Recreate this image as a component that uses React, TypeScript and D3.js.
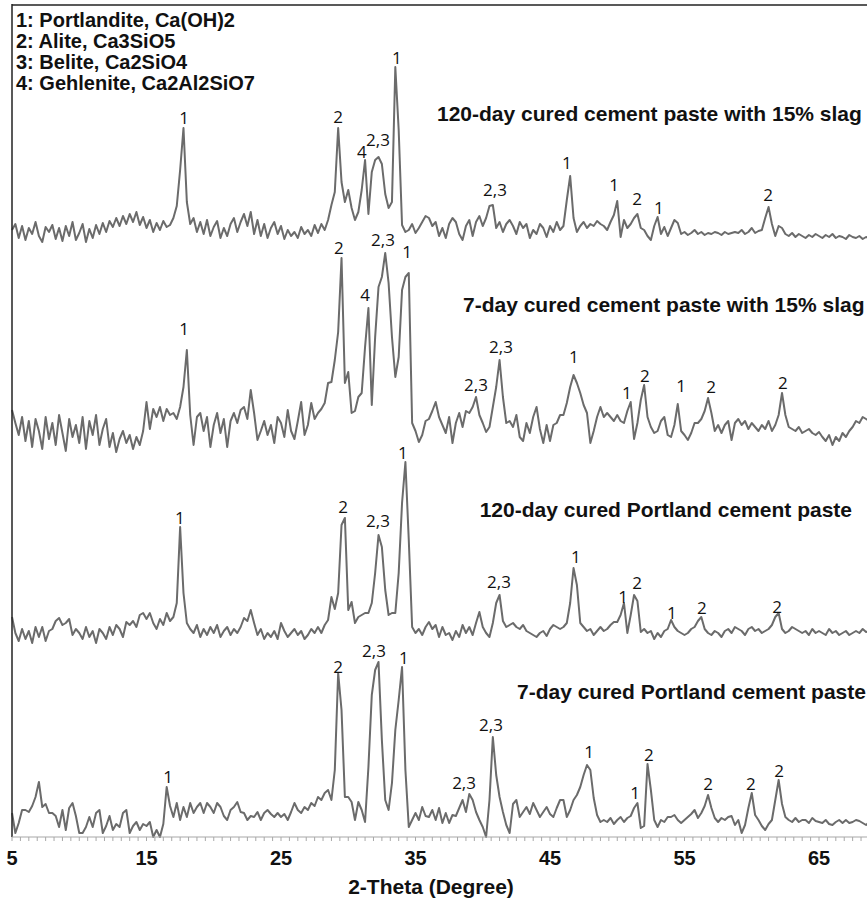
import React from 'react';
import * as d3 from 'd3';

// ---------- DATA ----------
// 2-Theta sampling of the digitised patterns (degrees)
const thetaStart = 5;
const thetaStep = 0.25;
const thetaDomain: [number, number] = [5, 70];
const xTickValues = [5, 15, 25, 35, 45, 55, 65];
const xAxisTitle = '2-Theta (Degree)';

// relative intensities (a.u.), one value per 0.25 deg from 5 to 70
const slag120 = [
  0, 6, -8, 4, -10, 2, -4, 8, -6, -12, 3, -2, 5, -9, 2, -11, 4, -6, 8, -10,
  -3, 6, -12, 1, -8, 5, -4, 7, -2, 9, 3, 12, 4, 14, 6, 16, 8, 18, 5, 13,
  2, 10, -2, 7, 0, 9, 3, 5, 12, 24, 60, 102, 28, 6, 12, -2, 8, -4, 10, -6,
  3, 9, -8, 2, -6, 6, 12, -2, 8, 16, 4, 18, -4, 10, -6, 6, -8, 2, 8, -4,
  4, -9, 0, -6, -2, -8, 3, -4, 0, -6, 5, -3, 6, 0, 10, 25, 38, 102, 48, 28,
  40, 22, 10, 18, 40, 70, 16, 58, 70, 73, 66, 36, 22, 28, 163, 100, 5, -2, 0, 6,
  -3, 2, 8, 14, 12, 4, 8, -6, 2, -8, 6, 12, 8, -4, -10, 4, 10, -6, 8, 14,
  4, 12, 24, 25, 2, 8, -2, 6, 10, 4, -4, 8, 2, 6, -8, 0, -4, 6, 2, -7,
  4, -2, 8, 0, 4, 30, 54, 12, -2, 4, 8, 2, 6, 4, 9, 6, 4, 0, 8, 15,
  29, -7, 10, 2, 6, 12, 16, 2, 0, -6, -10, 4, 13, -4, 3, -6, 2, 10, 7, -4,
  -2, -5, -3, 0, -4, -2, -5, -3, -4, -2, -3, -5, -2, -4, -3, -2, -3, 0, -4, -2,
  2, -3, -1, 0, 12, 23, 6, -6, 4, 2, -4, -6, -3, -7, -4, -6, -8, -5, -7, -4,
  -6, -8, -5, -7, -4, -8, -6, -7, -9, -5, -7, -8, -6, -9, -7, -8, -7, -8, -6, -8,
  -7,
];

const slag7 = [
  17, 4, -8, 10, -14, 6, -20, 8, -4, -22, 10, -12, 4, -18, 12, -6, -24, 8, -10, 2,
  -16, 10, -22, 6, -8, 12, -18, -2, 8, -20, -6, -25, -12, -4, -16, -8, -22, -10, -18, -4,
  25, -2, 18, 10, 20, 6, 18, 12, 14, 8, 20, 40, 77, 12, -18, 10, 14, -4, 10, -20,
  2, 14, -6, 8, -20, 6, 14, 4, 17, 20, 8, 37, 14, -13, -4, 6, -8, 2, -16, 10,
  4, -10, 17, -4, -12, 6, 25, -8, 2, 24, 8, 14, 18, 24, 44, 45, 67, 95, 169, 44,
  55, 14, 16, 30, 34, 80, 119, 22, 90, 140, 150, 174, 144, 90, 50, 70, 137, 150, 154, 4,
  -4, -15, -8, 6, 8, 16, 25, 10, 2, -6, 10, -16, 4, 14, 0, 16, 14, 20, 30, 12,
  4, -5, 0, 20, 40, 67, 30, 4, 6, 0, 12, -10, -14, 4, -6, 10, 20, -2, -16, 2,
  -14, 2, 4, 12, 12, 24, 40, 52, 44, 34, 22, 14, -16, -4, 10, 20, 10, 14, 10, 6,
  12, 6, 4, 16, 25, -12, 4, 27, 42, 10, 0, -6, -4, 6, 10, -8, -10, 2, 23, -4,
  -8, -13, -6, 4, 4, 8, 16, 29, 14, -4, 2, -6, 2, 6, -13, 4, 8, 2, 6, -2,
  4, 0, -4, 2, -2, 6, -4, 2, 12, 34, 12, 0, -2, -4, 0, -6, -4, -2, -6, -8,
  -5, -10, -14, -8, -18, -10, -14, -6, -10, -4, 0, 6, 4, 10, 8, 6, 4, 8, 6, 4,
  6,
];

const opc120 = [
  16, 0, -8, 4, -6, 2, -10, 6, -4, 6, -8, 2, 4, 12, 15, 8, 10, 14, -2, 4,
  0, -6, 6, -4, 2, -10, 4, 0, -6, 6, -2, 8, 4, -4, 11, 8, 12, 6, 18, 20,
  14, 20, 10, 4, 14, 8, 20, 12, 16, 30, 106, 40, 10, 4, 0, 8, -4, 4, -2, 6,
  0, 8, -4, 2, 6, -2, 4, 0, 6, 15, 12, 23, 10, -2, 4, -6, 0, -4, 2, -6,
  10, 2, -4, 0, 4, -2, 2, -6, -2, 4, 0, 6, 0, 8, 13, 36, 24, 40, 108, 115,
  23, 31, 10, 16, 18, 20, 20, 30, 60, 98, 86, 43, 18, 20, 20, 60, 130, 171, 93, 6,
  0, 4, -2, 6, 11, 4, 8, -4, 6, -2, 0, -7, 2, -4, 8, 0, 6, -2, 10, 21,
  6, 0, -4, 10, 30, 38, 12, 6, 8, 10, 6, 4, 8, 2, 0, -2, -4, 0, 2, -3,
  4, 8, 6, 4, 6, 10, 30, 65, 48, 10, 6, 2, 4, -2, 2, 6, 2, 4, 8, 11,
  11, 18, 30, 0, 18, 38, 32, 1, 4, 0, 2, -6, 0, -4, 2, 4, 13, 6, 2, 0,
  -2, 0, 4, 6, 12, 16, 4, 0, -2, 2, 0, -4, 2, 4, 0, 6, 4, 2, -2, 4,
  6, 2, 4, 0, 2, 4, 8, 16, 20, 4, 0, 2, 6, 4, 2, 0, 2, -2, 4, 0,
  2, 0, -2, 4, 0, 2, -2, 0, 2, -2, 0, 2, 0, 4, 1, 2, 0, 2, 1, 0,
  2,
];

const opc7 = [
  7, -13, -3, 10, 10, 8, 14, 23, 38, 13, 16, 7, 7, 4, -7, 10, -10, 12, 17, 4,
  -13, -13, -7, 3, -7, 7, 10, -13, -6, 4, -10, -4, -7, 7, 10, -13, -6, -2, -10, -4,
  -6, -2, -17, -10, -17, -4, 33, 14, 3, 17, 0, 13, 3, 17, 7, 13, 17, 7, 17, 13,
  7, 17, 13, 4, 0, 10, 13, 18, 8, 7, 0, 4, 3, 8, 0, 7, 10, 6, 3, 7,
  3, 6, 0, 8, 17, 10, 7, 13, 10, 17, 14, 23, 20, 27, 30, 20, 50, 147, 110, 23,
  23, 18, 0, 18, 10, -2, 53, 125, 150, 158, 80, 20, 10, 37, 90, 120, 153, 50, -7, 0,
  7, 0, 13, 4, 3, 10, 0, 12, -3, 7, -3, 5, 4, 12, 20, 8, 26, 20, 8, 0,
  -7, -17, 20, 83, 45, 23, 8, -5, -13, 16, 20, 3, 8, 13, 6, 17, 10, 3, 8, 13,
  6, 3, 12, 20, 20, 3, 10, 20, 25, 33, 45, 55, 50, 22, 5, -2, 0, -2, 2, -4,
  0, 3, -2, 2, 4, 12, 17, -8, -6, 56, 30, 0, -7, 0, -2, 3, 3, 5, 0, -3,
  0, 3, 6, 10, 2, 7, 14, 25, 12, 2, -2, 2, 0, 3, 4, -5, 0, -13, -5, 12,
  27, 5, 0, -6, -10, -4, 0, 20, 40, 16, 3, 0, -2, 2, -2, 0, 0, -3, 2, -1,
  -2, -3, 0, -4, -5, -2, 0, -3, 0, -3, -2, 0, -1, -3, -5, -2, -2, -4, -3, -2,
  -3,
];

// vertical offset of each pattern (a.u.), top to bottom
const traceOffsets = [608, 411, 205, 18];
const traceNames = [
  '120-day cured cement paste with 15% slag',
  '7-day cured cement paste with 15% slag',
  '120-day cured Portland cement paste',
  '7-day cured Portland cement paste',
];

const phaseLegend = [
  '1: Portlandite, Ca(OH)2',
  '2: Alite, Ca3SiO5',
  '3: Belite, Ca2SiO4',
  '4: Gehlenite, Ca2Al2SiO7',
];

// peak annotations: [2-theta, label, height above pattern baseline]
const slag120Peaks: [number, string, number][] = [
  [17.79, '1', 106], [29.24, '2', 107], [31.02, '4', 72], [32.21, '2,3', 84],
  [33.62, '1', 166], [40.91, '2,3', 34], [46.26, '1', 61], [49.76, '1', 39],
  [51.47, '2', 25], [53.1, '1', 16], [61.21, '2', 29],
];
const slag7Peaks: [number, string, number][] = [
  [17.79, '1', 92], [29.31, '2', 173], [31.25, '4', 126], [32.58, '2,3', 181],
  [34.37, '1', 169], [39.5, '2,3', 36], [41.36, '2,3', 74], [46.78, '1', 64],
  [50.72, '1', 28], [52.06, '2', 45], [54.74, '1', 35], [56.97, '2', 34], [62.32, '2', 38],
];
const opc120Peaks: [number, string, number][] = [
  [17.49, '1', 109], [29.61, '2', 120], [32.21, '2,3', 106], [34.07, '1', 174],
  [41.21, '2,3', 45], [46.93, '1', 70], [50.43, '1', 30], [51.47, '2', 44],
  [54.07, '1', 14], [56.3, '2', 19], [61.88, '2', 20],
];
const opc7Peaks: [number, string, number][] = [
  [16.6, '1', 37], [29.24, '2', 147], [31.91, '2,3', 163], [34.14, '1', 156],
  [38.61, '2,3', 31], [40.61, '2,3', 89], [47.9, '1', 62], [51.32, '1', 21],
  [52.36, '2', 59], [56.75, '2', 30], [59.94, '2', 30], [62.03, '2', 43],
];

const traces = [slag120, slag7, opc120, opc7];
const tracePeaks = [slag120Peaks, slag7Peaks, opc120Peaks, opc7Peaks];

// ---------- CHART ----------
const W = 867;
const H = 901;
const LEFT = 12;
const TOP = 4;
const AXIS_Y = 837;
const PX_PER_DEG = 13.45;

// title placement (layout)
const titleLayout = [
  { x: 437, y: 121, anchor: 'start' },
  { x: 463, y: 312, anchor: 'start' },
  { x: 852, y: 517, anchor: 'end' },
  { x: 517, y: 699, anchor: 'start' },
];

const boldFont = "'Liberation Sans', Arial, sans-serif";
const narrowFont = "'Liberation Sans Narrow', 'Arial Narrow', 'Liberation Sans', Arial, sans-serif";
const peakFont = "'Open Sans', 'Liberation Sans', sans-serif";

export default function App() {
  const x = d3
    .scaleLinear()
    .domain(thetaDomain)
    .range([LEFT, LEFT + (thetaDomain[1] - thetaDomain[0]) * PX_PER_DEG]);
  const y = d3.scaleLinear().domain([0, 834]).range([838, 4]);

  const line = d3
    .line<number>()
    .x((_, i) => x(thetaStart + i * thetaStep))
    .y((d) => d);

  const minorTicks = d3.range(thetaDomain[0], thetaDomain[1] + 0.001, 0.625);

  return (
    <svg
      width={W}
      height={H}
      style={{ position: 'absolute', left: 0, top: 0, background: '#fff' }}
    >
      <rect x={0} y={0} width={W} height={H} fill="#fff" />
      {/* patterns */}
      <g>
        {traces.map((tr, k) => (
          <path
            key={k}
            d={line(tr.map((v) => y(traceOffsets[k] + v))) || ''}
            fill="none"
            stroke="#6b6b6b"
            strokeWidth={2}
            strokeLinejoin="round"
          />
        ))}
      </g>
      {/* peak labels */}
      <g fontFamily={peakFont} fontSize={17} fill="#111" textAnchor="middle">
        {tracePeaks.map((pk, k) =>
          pk.map(([t, lab, h], j) => (
            <text key={k + '-' + j} x={x(t)} y={y(traceOffsets[k] + h)}>
              {lab}
            </text>
          ))
        )}
      </g>
      {/* frame */}
      <line x1={LEFT} x2={LEFT} y1={TOP} y2={AXIS_Y} stroke="#222" strokeWidth={1.5} />
      <line x1={LEFT} x2={W} y1={TOP + 1} y2={TOP + 1} stroke="#222" strokeWidth={1.5} />
      {/* x axis */}
      <line x1={LEFT} x2={W} y1={AXIS_Y} y2={AXIS_Y} stroke="#a8a8a8" strokeWidth={1.2} />
      {minorTicks.map((t, i) => (
        <line key={i} x1={x(t)} x2={x(t)} y1={AXIS_Y} y2={AXIS_Y + 4} stroke="#a8a8a8" strokeWidth={1} />
      ))}
      <g fontFamily={narrowFont} fontWeight="bold" fill="#111" textAnchor="middle">
        {xTickValues.map((v) => (
          <text key={v} x={x(v)} y={865} fontSize={20}>
            {v}
          </text>
        ))}
        <text x={431} y={894} fontSize={21}>
          {xAxisTitle}
        </text>
      </g>
      {/* legend */}
      <g fontFamily={boldFont} fontWeight="bold" fontSize={20} fill="#111">
        {phaseLegend.map((s, i) => (
          <text key={i} x={16} y={27 + i * 21}>
            {s}
          </text>
        ))}
      </g>
      {/* pattern titles */}
      <g fontFamily={boldFont} fontWeight="bold" fontSize={21} fill="#111">
        {traceNames.map((s, i) => (
          <text key={i} x={titleLayout[i].x} y={titleLayout[i].y} textAnchor={titleLayout[i].anchor as any}>
            {s}
          </text>
        ))}
      </g>
    </svg>
  );
}
